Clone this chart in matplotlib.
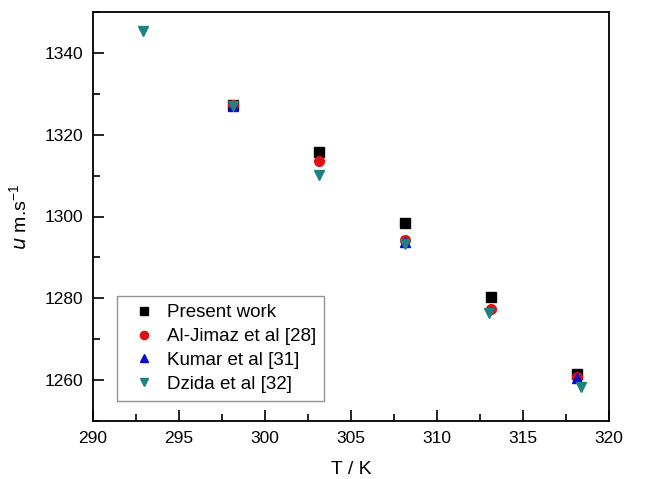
import matplotlib.pyplot as plt
from matplotlib.ticker import MultipleLocator

plt.rcParams['font.family'] = ['Liberation Sans', 'DejaVu Sans']

# Speed of sound data for each source
T_present = [298.15, 303.15, 308.15, 313.15, 318.15]
u_present = [1327.2, 1315.7, 1298.4, 1280.3, 1261.5]

T_jimaz = [298.15, 303.15, 308.15, 313.15, 318.15]
u_jimaz = [1327.3, 1313.6, 1294.2, 1277.4, 1260.8]

T_kumar = [298.15, 308.15, 318.15]
u_kumar = [1327.0, 1293.8, 1260.6]

T_dzida = [292.9, 298.15, 303.15, 308.15, 313.05, 318.35]
u_dzida = [1345.3, 1326.9, 1310.1, 1293.2, 1276.4, 1258.4]

fig = plt.figure(figsize=(6.68, 4.79), dpi=100)
ax = fig.add_axes([93/668, 1 - 421/479, (609 - 93)/668, (421 - 12)/479])

ms = 7
ax.plot(T_present, u_present, 's', color='black', ms=ms, label='Present work')
ax.plot(T_jimaz, u_jimaz, 'o', color='#e01010', ms=ms, label='Al-Jimaz et al [28]')
ax.plot(T_kumar, u_kumar, '^', color='#0a0ad0', ms=ms, label='Kumar et al [31]')
ax.plot(T_dzida, u_dzida, 'v', color='#1f8282', ms=ms, label='Dzida et al [32]')

ax.set_xlim(290, 320)
ax.set_ylim(1250, 1350)
ax.xaxis.set_major_locator(MultipleLocator(5))
ax.xaxis.set_minor_locator(MultipleLocator(2.5))
ax.yaxis.set_major_locator(MultipleLocator(20))
ax.yaxis.set_minor_locator(MultipleLocator(10))
ax.tick_params(which='both', direction='in', top=False, right=False,
               labelsize=12.5, width=1.2, pad=7)
ax.tick_params(which='major', length=8)
ax.tick_params(which='minor', length=5)
for s in ax.spines.values():
    s.set_linewidth(1.3)

ax.set_xlabel('T / K', fontsize=14, labelpad=11)
ax.set_ylabel(r'$\mathit{u}$ m.s$^{\mathregular{-1}}$', fontsize=14, labelpad=10)

leg = ax.legend(loc='lower left', bbox_to_anchor=(0.0465, 0.049), fontsize=13.5,
                frameon=True, fancybox=False, edgecolor='#777777',
                borderaxespad=0, handletextpad=0.2, borderpad=0.45,
                labelspacing=0.35, handlelength=2.0, markerscale=0.85)
leg.get_frame().set_linewidth(1.0)

fig.savefig('out.png', dpi=100)
